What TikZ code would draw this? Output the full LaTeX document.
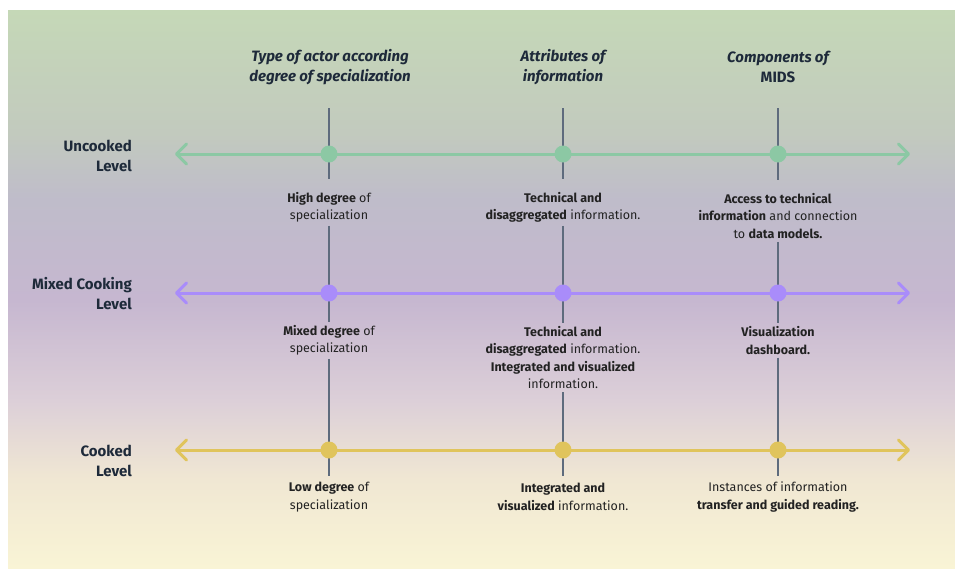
\documentclass[tikz,border=0pt]{standalone}
\usepackage{fontspec}
\setmainfont{Fira Sans}
\usetikzlibrary{arrows.meta}
\definecolor{gtop}{HTML}{C5D8B7}
\definecolor{gtwo}{HTML}{C2CABE}
\definecolor{pone}{HTML}{BFBCCA}
\definecolor{ptwo}{HTML}{C6B7D0}
\definecolor{pthree}{HTML}{DCCFD8}
\definecolor{ytwo}{HTML}{F0E7D3}
\definecolor{ybot}{HTML}{F9F4D5}
\definecolor{lgreen}{HTML}{8CC8A4}
\definecolor{lpurple}{HTML}{A98CFA}
\definecolor{lyellow}{HTML}{E0C45C}
\definecolor{vl}{HTML}{5E6B7D}
\definecolor{hd}{HTML}{1E2A3A}
\definecolor{txt}{HTML}{222222}
\pgfdeclareverticalshading{bgshade}{100bp}{color(0bp)=(ybot); color(25bp)=(ybot); color(33bp)=(ytwo); color(40bp)=(pthree); color(49bp)=(ptwo); color(58bp)=(pone); color(64bp)=(gtwo); color(75bp)=(gtop); color(100bp)=(gtop)}
\begin{document}
\begin{tikzpicture}[x=1pt,y=-1pt,
  body/.style={font=\fontsize{12.5}{17.5}\selectfont, align=center, text=txt, inner xsep=0pt, inner ysep=3pt},
  head/.style={font=\fontsize{15}{20}\selectfont\bfseries\itshape, align=center, text=hd},
  lvl/.style={font=\fontsize{15}{20}\selectfont\bfseries, align=right, text=hd, anchor=east, inner sep=0pt},
  vline/.style={draw=vl, line width=1.5pt},
  hline/.style={line width=3pt, arrows={Straight Barb[length=10pt,width=20pt,round]-Straight Barb[length=10pt,width=20pt,round]}},
  dot/.style={circle, fill=#1, minimum size=17pt, inner sep=0pt}
]
\useasboundingbox (0,0) rectangle (955,568);
\fill[shading=bgshade] (8,10) rectangle (955,568);

% headers
\node[head] (hA) at (330,67) {Type of actor according\\degree of specialization};
\node[head] (hB) at (563,67) {Attributes of\\information};
\node[head] (hC) at (778,67) {Components of\\{\upshape MIDS}};

% level labels
\node[lvl] (lU) at (132,155.5) {Uncooked\\Level};
\node[lvl] (lM) at (132,294) {Mixed Cooking\\Level};
\node[lvl] (lC) at (132,461) {Cooked\\Level};

% text nodes
\node[body] (u1t) at (329,207.5) {\textbf{High degree} of\\specialization};
\node[body] (u2t) at (563,207.5) {\textbf{Technical and}\\\textbf{disaggregated} information.};
\node[body] (u3t) at (778,216) {\textbf{Access to technical}\\\textbf{information} and connection\\to \textbf{data models.}};
\node[body] (m1t) at (329,340.5) {\textbf{Mixed degree} of\\specialization};
\node[body] (m2t) at (563,357.5) {\textbf{Technical and}\\\textbf{disaggregated} information.\\\textbf{Integrated and visualized}\\information.};
\node[body] (m3t) at (778,340.5) {\textbf{Visualization}\\\textbf{dashboard.}};
\node[body] (c1t) at (329,497) {\textbf{Low degree} of\\specialization};
\node[body] (c2t) at (563,497) {\textbf{Integrated and}\\\textbf{visualized} information.};
\node[body] (c3t) at (778,497) {Instances of information\\\textbf{transfer and guided reading.}};

% column ends
\coordinate (t1) at (329,108);
\coordinate (t2) at (563,108);
\coordinate (t3) at (778,108);
\coordinate (b1) at (329,476);
\coordinate (b2) at (563,476);
\coordinate (b3) at (778,476);

% vertical lines
\draw[vline] (t1) -- ([yshift=10pt]u1t.north);
\draw[vline] (u1t) -- (m1t);
\draw[vline] (m1t) -- (b1);
\draw[vline] (t2) -- ([yshift=10pt]u2t.north);
\draw[vline] (u2t) -- (m2t);
\draw[vline] (m2t) -- (b2);
\draw[vline] (t3) -- ([yshift=10pt]u3t.north);
\draw[vline] (u3t) -- (m3t);
\draw[vline] (m3t) -- (b3);

% horizontal lines
\coordinate (uL) at (175,154);
\coordinate (uR) at (910,154);
\coordinate (mL) at (175,293);
\coordinate (mR) at (910,293);
\coordinate (cL) at (175,450);
\coordinate (cR) at (910,450);
\draw[hline, draw=lgreen] (uL) -- (uR);
\draw[hline, draw=lpurple] (mL) -- (mR);
\draw[hline, draw=lyellow] (cL) -- (cR);

% dots
\node[dot=lgreen] (u1) at (329,154) {};
\node[dot=lgreen] (u2) at (563,154) {};
\node[dot=lgreen] (u3) at (778,154) {};
\node[dot=lpurple] (m1) at (329,293) {};
\node[dot=lpurple] (m2) at (563,293) {};
\node[dot=lpurple] (m3) at (778,293) {};
\node[dot=lyellow] (c1) at (329,450) {};
\node[dot=lyellow] (c2) at (563,450) {};
\node[dot=lyellow] (c3) at (778,450) {};
\end{tikzpicture}
\end{document}
